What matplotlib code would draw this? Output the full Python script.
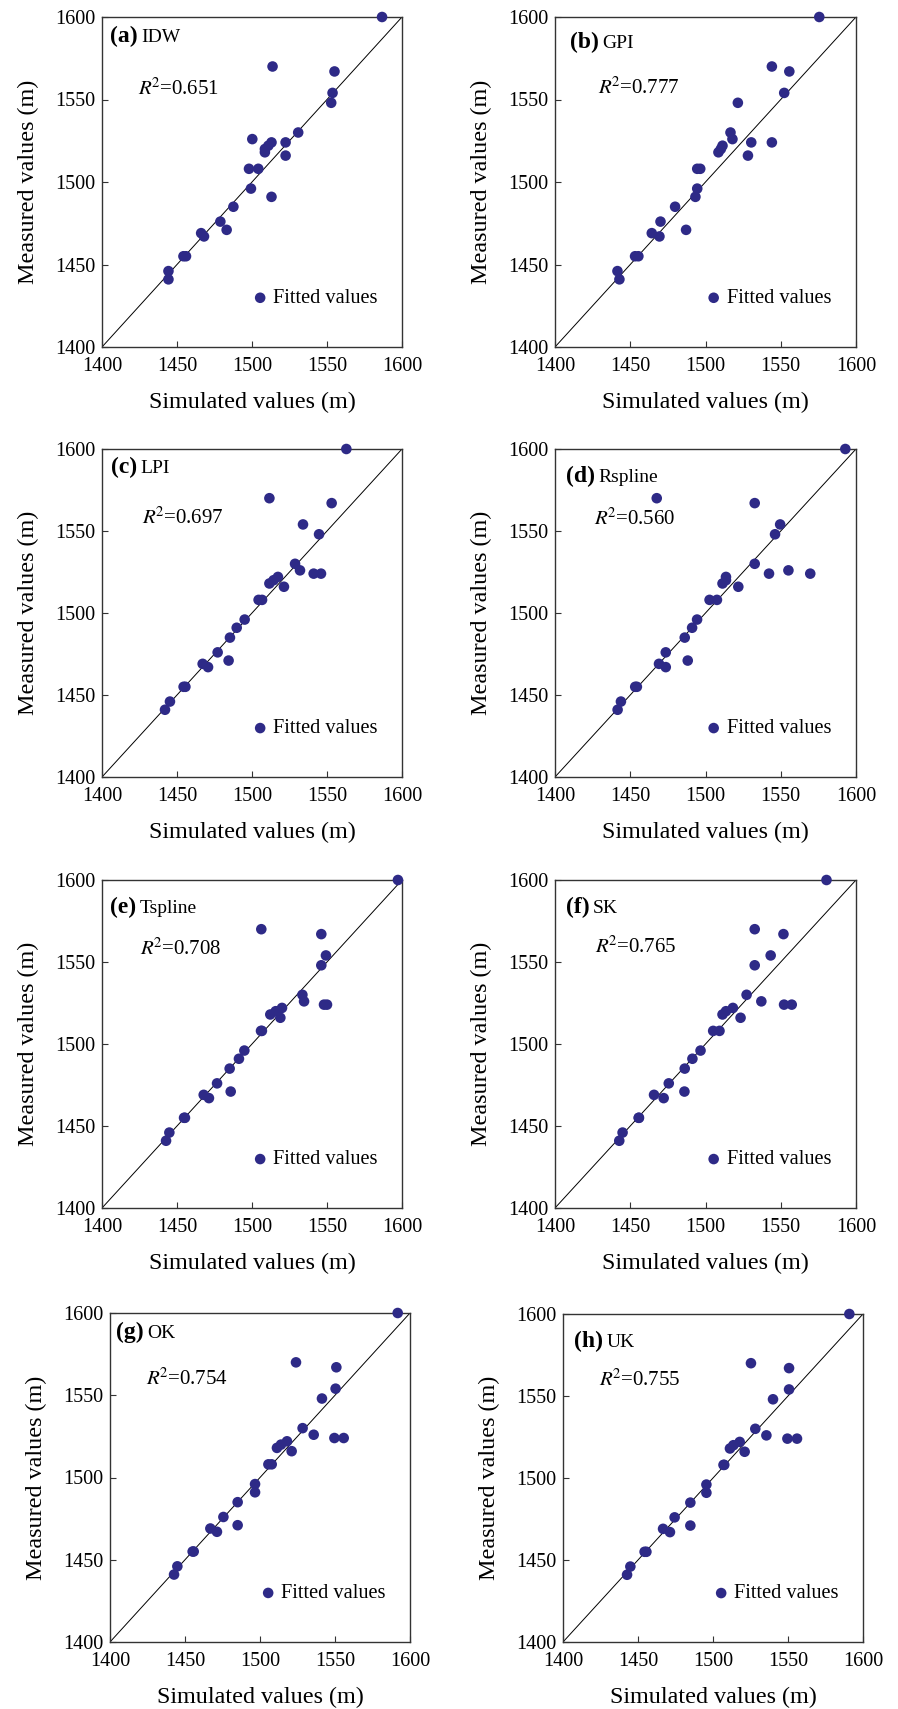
import matplotlib
matplotlib.use("Agg")
import matplotlib.pyplot as plt

plt.rcParams['font.family'] = ['Liberation Serif', 'DejaVu Serif']
plt.rcParams['mathtext.fontset'] = 'stix'

# ---------------- data ----------------
axis_range = [1400, 1600]
ticks = [1400, 1450, 1500, 1550, 1600]

measured = [1600, 1570, 1567, 1554, 1548, 1530, 1526, 1524, 1524, 1522, 1520, 1518, 1516,
            1508, 1508, 1496, 1491, 1485, 1476, 1471, 1469, 1467, 1455, 1455, 1446, 1441]

sim_idw = [1586.7, 1513.7, 1555.0, 1553.7, 1552.8, 1530.8, 1500.2, 1513.0, 1522.4, 1510.9, 1508.6, 1508.6, 1522.4,
           1498.0, 1504.2, 1499.3, 1513.0, 1487.6, 1478.9, 1483.1, 1466.1, 1468.0, 1454.3, 1456.0, 1444.3, 1444.3]
sim_gpi = [1575.6, 1544.1, 1555.7, 1552.3, 1521.5, 1516.6, 1517.9, 1530.4, 1544.1, 1511.3, 1510.2, 1508.6, 1528.2,
           1494.5, 1496.5, 1494.5, 1493.3, 1479.8, 1470.1, 1487.1, 1464.3, 1469.4, 1453.2, 1455.4, 1441.5, 1442.8]
sim_lpi = [1562.9, 1511.6, 1553.1, 1534.0, 1544.7, 1528.7, 1532.0, 1541.1, 1546.0, 1517.3, 1514.4, 1511.6, 1521.3,
           1504.4, 1506.7, 1495.1, 1489.8, 1485.3, 1477.1, 1484.4, 1467.1, 1470.7, 1454.4, 1455.6, 1445.3, 1442.0]
sim_rspline = [1592.9, 1467.6, 1532.7, 1549.6, 1546.2, 1532.7, 1555.1, 1542.2, 1569.6, 1513.6, 1513.6, 1511.3, 1521.8,
               1502.7, 1507.6, 1494.4, 1491.1, 1486.2, 1473.6, 1488.2, 1469.1, 1473.6, 1453.3, 1454.4, 1443.8, 1441.6]
sim_tspline = [1597.3, 1506.2, 1546.2, 1549.3, 1546.2, 1533.6, 1534.7, 1548.0, 1550.0, 1520.0, 1515.8, 1512.2, 1518.9,
               1506.0, 1506.6, 1494.9, 1491.3, 1485.1, 1476.7, 1485.8, 1467.8, 1471.3, 1454.7, 1455.3, 1444.9, 1442.7]
sim_sk = [1580.4, 1532.7, 1551.8, 1543.3, 1532.7, 1527.3, 1537.1, 1552.2, 1557.3, 1518.2, 1513.6, 1511.3, 1523.3,
          1505.1, 1509.3, 1496.7, 1491.3, 1486.2, 1475.6, 1486.0, 1465.8, 1472.2, 1455.6, 1455.8, 1444.9, 1442.7]
sim_ok = [1591.8, 1524.0, 1550.9, 1550.4, 1541.3, 1528.4, 1535.8, 1549.6, 1555.8, 1518.0, 1514.0, 1511.3, 1521.1,
          1505.6, 1507.8, 1496.7, 1496.7, 1485.1, 1475.6, 1485.1, 1466.9, 1471.3, 1455.1, 1455.8, 1444.9, 1442.7]
sim_uk = [1590.9, 1525.3, 1550.7, 1550.7, 1540.0, 1528.2, 1535.6, 1549.6, 1556.0, 1517.8, 1513.6, 1511.3, 1521.1,
          1507.0, 1507.5, 1495.6, 1495.6, 1484.9, 1474.4, 1484.9, 1466.7, 1471.3, 1454.4, 1455.6, 1444.9, 1442.7]

panel_tags = ['(a)', '(b)', '(c)', '(d)', '(e)', '(f)', '(g)', '(h)']
methods = ['IDW', 'GPI', 'LPI', 'Rspline', 'Tspline', 'SK', 'OK', 'UK']
r2_values = ['0.651', '0.777', '0.697', '0.560', '0.708', '0.765', '0.754', '0.755']
sims = [sim_idw, sim_gpi, sim_lpi, sim_rspline, sim_tspline, sim_sk, sim_ok, sim_uk]

# ---------------- layout (pixels) ----------------
W, H = 898, 1709
boxes = [(102, 402, 17, 347), (555, 856, 17, 347),
         (102, 402, 449, 777), (555, 856, 449, 777),
         (102, 402, 880, 1208), (555, 856, 880, 1208),
         (110, 410, 1313, 1642), (563, 863, 1314, 1642)]
tag_pos = [(0.027, 0.925), (0.05, 0.905), (0.03, 0.926), (0.037, 0.90),
           (0.027, 0.898), (0.036, 0.898), (0.019, 0.924), (0.038, 0.899)]
r2_pos = [(0.121, 0.764), (0.144, 0.766), (0.132, 0.773), (0.131, 0.768),
          (0.127, 0.771), (0.133, 0.779), (0.12, 0.781), (0.121, 0.781)]

dot_color = '#2E2A87'

fig = plt.figure(figsize=(W / 100, H / 100), dpi=100)

for i in range(8):
    x0, x1, y0, y1 = boxes[i]
    ax = fig.add_axes([x0 / W, 1 - y1 / H, (x1 - x0) / W, (y1 - y0) / H])
    ax.plot(axis_range, axis_range, color='black', lw=0.7, zorder=1)
    ax.scatter(sims[i], measured, s=58, color=dot_color, edgecolors='none',
               zorder=3, clip_on=False, label='Fitted values')
    ax.set_xlim(axis_range)
    ax.set_ylim(axis_range)
    ax.set_xticks(ticks)
    ax.set_yticks(ticks)
    ax.tick_params(direction='in', length=4, width=0.8, labelsize=14.5,
                   top=False, right=False, color='#333333')
    ax.tick_params(axis='x', pad=7.5)
    ax.tick_params(axis='y', pad=5)
    for sp in ax.spines.values():
        sp.set_linewidth(1.0)
        sp.set_color('#333333')
    ax.set_xlabel('Simulated values (m)', fontsize=17.4, labelpad=11)
    ax.set_ylabel('Measured values (m)', fontsize=17.4, labelpad=11)

    tx, ty = tag_pos[i]
    t1 = ax.text(tx, ty, panel_tags[i], transform=ax.transAxes, fontsize=17,
                 fontweight='bold', va='baseline', ha='left')
    ax.annotate(methods[i], xy=(1, 0), xycoords=t1, xytext=(2.5, 0.8),
                textcoords='offset points', fontsize=14, va='bottom', ha='left')

    rx, ry = r2_pos[i]
    ax.text(rx, ry, r'$R^{\!2}$=' + r2_values[i], transform=ax.transAxes,
            fontsize=15, va='baseline', ha='left')

    ax.legend(loc='center left', bbox_to_anchor=(0.50, 0.147), frameon=False,
              borderpad=0, borderaxespad=0, handlelength=0.8, handletextpad=0.25,
              fontsize=14.7, scatterpoints=1)

fig.savefig('out.png', dpi=100)
